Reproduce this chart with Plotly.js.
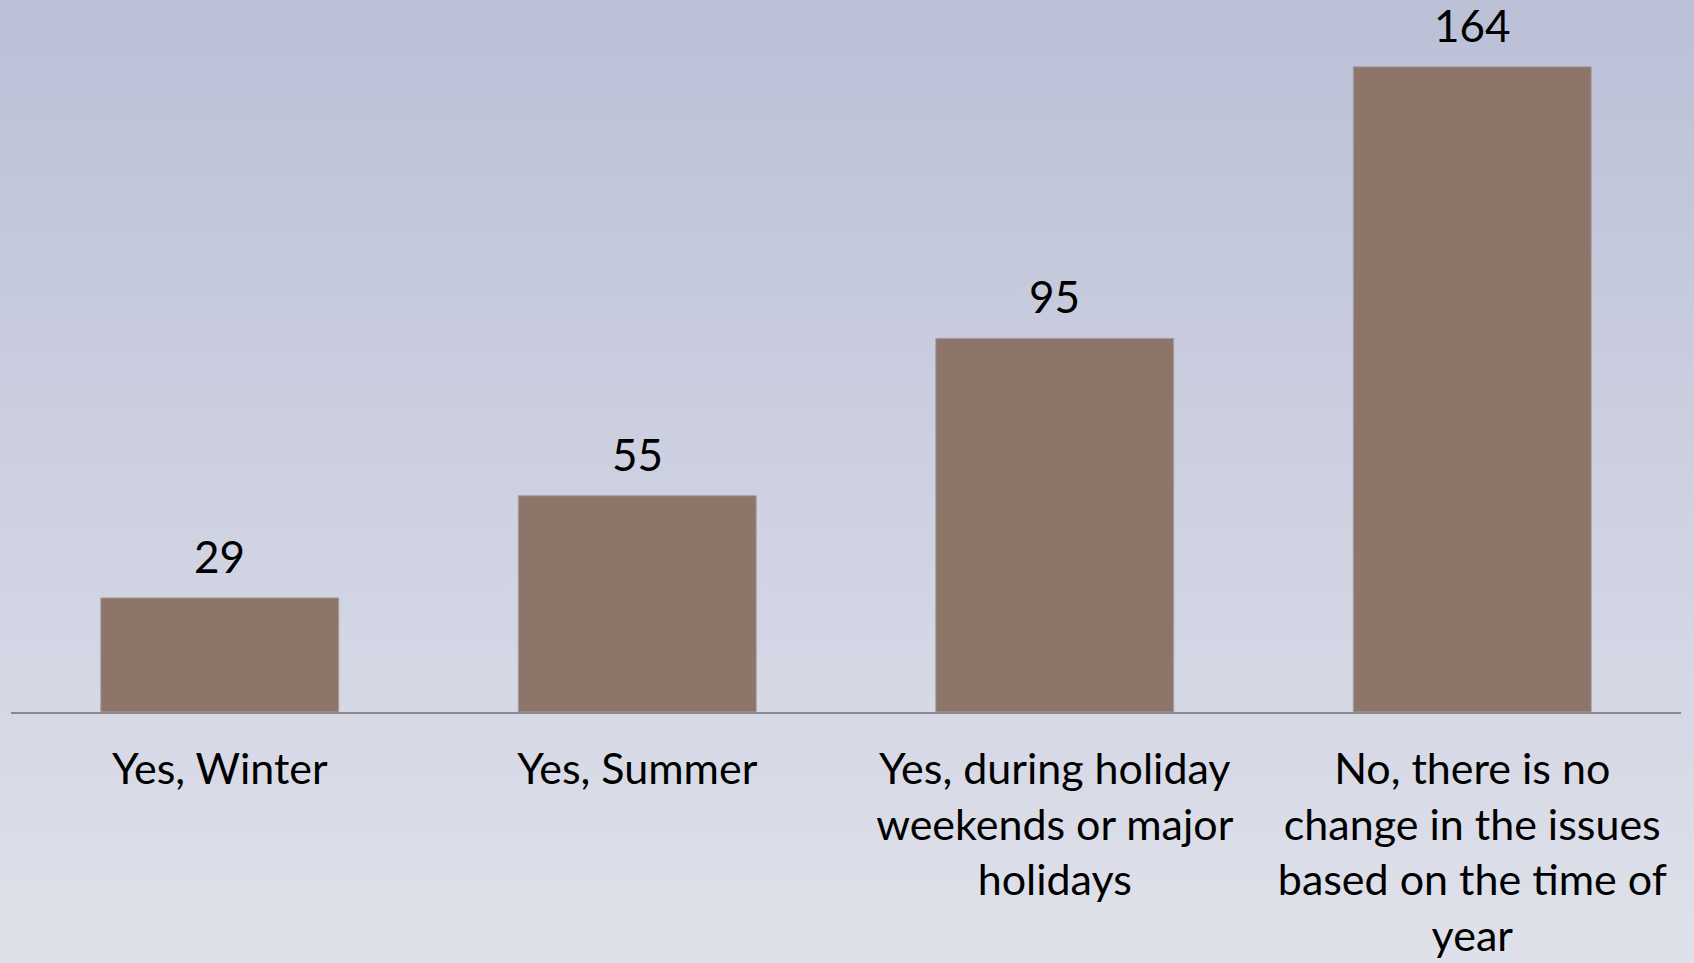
<!DOCTYPE html>
<html>
<head>
<meta charset="utf-8">
<script src="https://cdn.plot.ly/plotly-3.0.1.min.js"></script>
<style>
html, body { margin:0; padding:0; width:1694px; height:963px; overflow:hidden;
  background: linear-gradient(to bottom, #bbc0d7 0%, #dfe1ea 100%); }
#chart { width:1694px; height:963px; }
</style>
</head>
<body>
<div id="chart"></div>
<script>
var categories = [
  "Yes, Winter",
  "Yes, Summer",
  "Yes, during holiday<br>weekends or major<br>holidays",
  "No, there is no<br>change in the issues<br>based on the time of<br>year"
];
var values = [29, 55, 95, 164];
var valueLabels = ["29", "55", "95", "164"];

var trace = {
  type: 'bar',
  x: categories,
  y: values,
  marker: { color: '#8e756a', line: { color: '#a8a0a6', width: 1 } },
  hoverinfo: 'none'
};

var annotations = categories.map(function (c, i) {
  return {
    x: c, y: values[i], text: valueLabels[i], showarrow: false,
    xref: 'x', yref: 'y', yanchor: 'bottom', yshift: 14,
    font: { family: 'Lato, sans-serif', size: 44, color: '#000' }
  };
});

var layout = {
  width: 1694, height: 963,
  margin: { l: 11, r: 13, t: 0, b: 251 },
  paper_bgcolor: 'rgba(0,0,0,0)',
  plot_bgcolor: 'rgba(0,0,0,0)',
  bargap: 0.43,
  showlegend: false,
  font: { family: 'Lato, sans-serif', size: 44, color: '#000' },
  xaxis: {
    showline: true, linecolor: '#8a8a8a', linewidth: 2,
    showgrid: false, zeroline: false, ticks: '',
    ticklabelstandoff: 18,
    tickfont: { family: 'Lato, sans-serif', size: 43, color: '#000' }
  },
  yaxis: {
    range: [0, 181], visible: false, showgrid: false, zeroline: false
  },
  annotations: annotations
};

Plotly.newPlot('chart', [trace], layout, { displayModeBar: false, staticPlot: true });
</script>
</body>
</html>
